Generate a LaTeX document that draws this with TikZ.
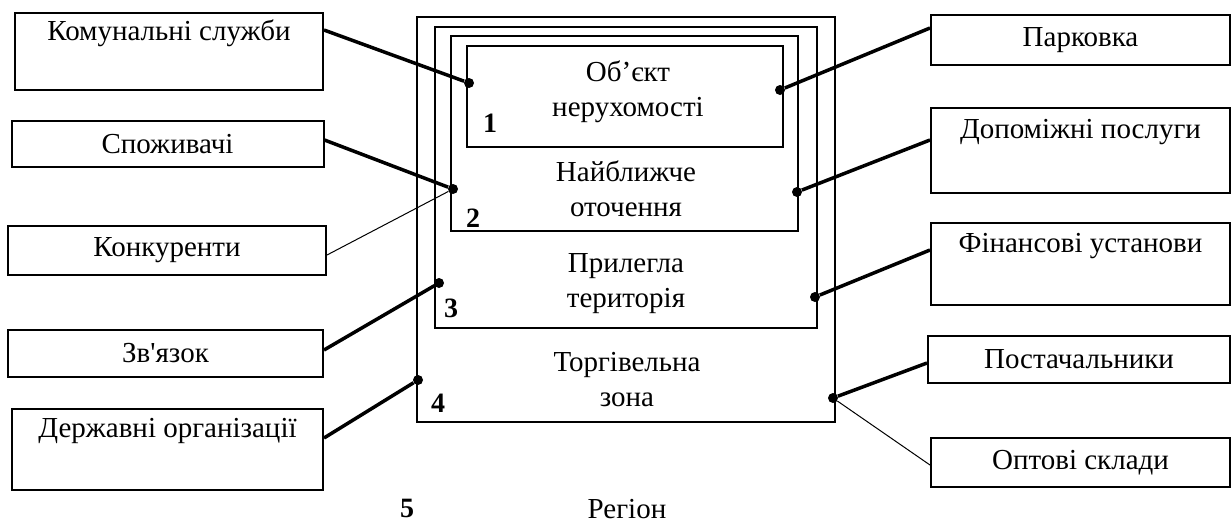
\documentclass[tikz,border=0pt]{standalone}
\usepackage{fontspec}
\setmainfont{Liberation Serif}
\usetikzlibrary{positioning}

\begin{document}
\begin{tikzpicture}
            [x=1pt,y=-1pt,
            factor/.style = {draw, line width=2pt, inner sep=0pt,
                        align=center, font=\fontsize{29}{33}\selectfont},
            zone/.style = {draw, line width=2pt, inner sep=0pt},
            txt/.style = {align=center, font=\fontsize{29}{35}\selectfont},
            num/.style = {anchor=base, font=\fontsize{28}{30}\selectfont\bfseries},
            dot/.style = {circle, fill, inner sep=0pt, minimum size=10pt},
            link/.style = {line width=3.5pt},
            weak/.style = {line width=1pt}]
            \useasboundingbox (0,0) rectangle (1232,523);
            % Dibujo zonas
            \node[zone, minimum width=418, minimum height=405] (z4) at (626,219.5) {};
            \node[zone, minimum width=382, minimum height=301] (z3) at (626,177.5) {};
            \node[zone, minimum width=347, minimum height=195] (z2) at (624.5,133.5) {};
            \node[zone, minimum width=316, minimum height=101] (z1) at (625,96.5) {};

            \node[txt] (t1) at (628,92) {Об’єкт\\нерухомості};
            \node[txt] (t2) at (626,189) {Найближче\\оточення};
            \node[txt] (t3) at (626,284) {Прилегла\\територія};
            \node[txt] (t4) at (627,380) {Торгівельна\\зона};

            \node[num] (n1) at (490,132) {1};
            \node[num] (n2) at (473,227) {2};
            \node[num] (n3) at (451,317) {3};
            \node[num] (n4) at (438,412) {4};
            \node[num] (n5) at (407,517) {5};
            \node[txt, anchor=base] (reg) at (627,518) {Регіон};

            % Factores izquierda
            \node[factor, minimum width=308, minimum height=77] (kom) at (169,51.5) {Комунальні служби\\\strut};
            \node[factor, minimum width=312, minimum height=46] (spoz) at (167.5,144) {Споживачі};
            \node[factor, minimum width=318, minimum height=49] (konk) at (167,250.5) {Конкуренти};
            \node[factor, minimum width=315, minimum height=47] (zv) at (165.5,353.5) {Зв\textquotesingle язок};
            \node[factor, minimum width=311, minimum height=81] (derzh) at (167.5,449.5) {Державні організації\\\strut};

            % Factores derecha
            \node[factor, minimum width=299, minimum height=50] (park) at (1080.5,40) {Парковка};
            \node[factor, minimum width=299, minimum height=85] (dop) at (1080.5,150.5) {Допоміжні послуги\\\strut};
            \node[factor, minimum width=299, minimum height=82] (fin) at (1080.5,264) {Фінансові установи\\\strut};
            \node[factor, minimum width=302, minimum height=47] (post) at (1079,359.5) {Постачальники};
            \node[factor, minimum width=299, minimum height=49] (opt) at (1080.5,462.5) {Оптові склади};

            % Puntos
            \node[dot] (d1w) at (469,83) {};
            \node[dot] (d2w) at (453,189) {};
            \node[dot] (d3w) at (439,283) {};
            \node[dot] (d4w) at (418,380) {};
            \node[dot] (d1e) at (780,90) {};
            \node[dot] (d2e) at (797,192) {};
            \node[dot] (d3e) at (815,297) {};
            \node[dot] (d4e) at (833,398) {};

            \draw[link] (kom.east |- 0,30) -- (d1w);
            \draw[link] (spoz.east |- 0,140) -- (d2w);
            \draw[weak] (konk.east |- 0,255) -- (d2w);
            \draw[link] (zv.east |- 0,350) -- (d3w);
            \draw[link] (derzh.east |- 0,438) -- (d4w);
            \draw[link] (park.west |- 0,28) -- (d1e);
            \draw[link] (dop.west |- 0,140) -- (d2e);
            \draw[link] (fin.west |- 0,250) -- (d3e);
            \draw[link] (post.west |- 0,363) -- (d4e);
            \draw[weak] (opt.west |- 0,465) -- (d4e);
        \end{tikzpicture}
\end{document}
